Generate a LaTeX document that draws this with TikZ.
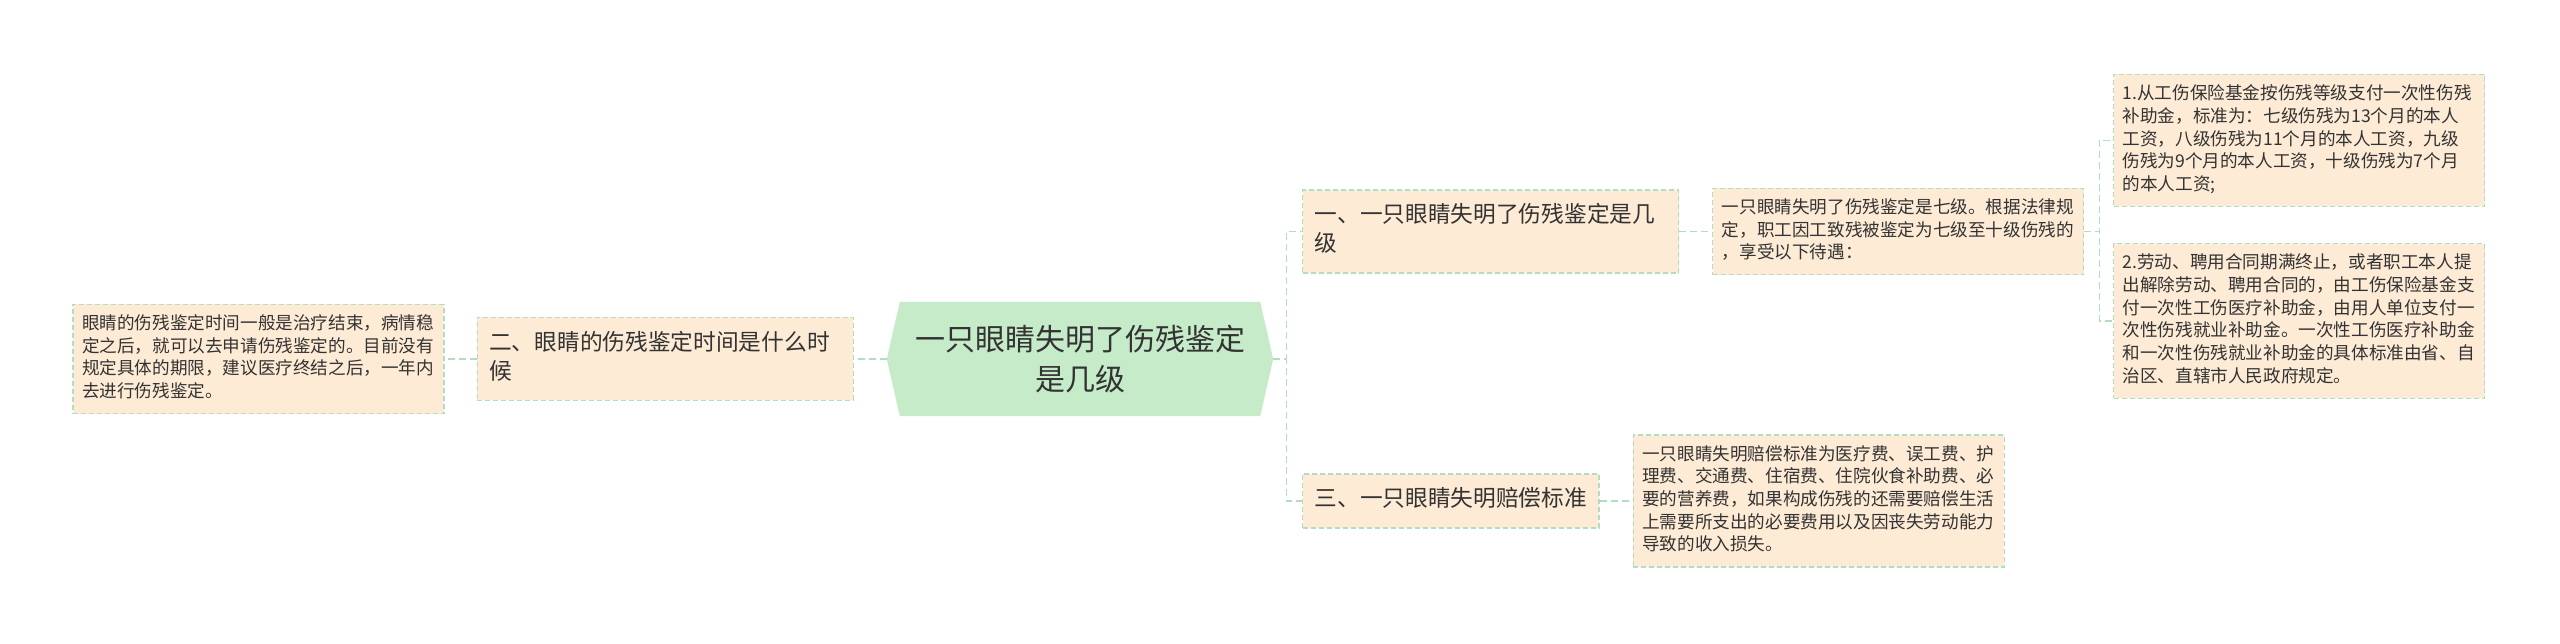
\documentclass[tikz,border=0pt]{standalone}
\usepackage{fontspec}
\newfontfamily\cjk{Noto Sans CJK SC}
\usepackage{xcolor}
\usepackage{tikz}
\usetikzlibrary{positioning,backgrounds}

\definecolor{peach}{RGB}{253,235,213}
\definecolor{edgegreen}{RGB}{176,222,190}
\definecolor{rootgreen}{RGB}{197,235,201}
\definecolor{inkgray}{RGB}{51,51,51}
\newcommand{\leaffont}{\cjk\fontsize{17.6pt}{22.7pt}\selectfont}
\newcommand{\topicfont}{\cjk\fontsize{22.7pt}{29pt}\selectfont}
\newcommand{\rootfont}{\cjk\fontsize{30pt}{40pt}\selectfont}

\begin{document}
\begin{tikzpicture}[
  x=1pt, y=1pt,
  node distance=33pt,
  text=inkgray,
  box/.style={fill=peach, draw=edgegreen, line width=1.2pt, dash pattern=on 5pt off 3pt, align=left,
    execute at begin node=\strut, execute at end node=\strut},
  topic/.style={box, font=\topicfont, inner xsep=12pt, inner ysep=12.5pt},
  leaf/.style={box, font=\leaffont, text width=353pt, inner xsep=9pt, inner ysep=9.25pt},
  root/.style={font=\rootfont, align=center, minimum width=386pt, minimum height=114pt},
  link/.style={draw=edgegreen, line width=1.3pt, dash pattern=on 7pt off 4pt}
]
\useasboundingbox (0,0) rectangle (2560,643);

\node[root] (root) at (1080,284) {一只眼睛失明了伤残鉴定\\是几级};
\begin{scope}[on background layer]
\fill[rootgreen] ([xshift=13pt]root.north west) -- ([xshift=-13pt]root.north east) -- (root.east)
  -- ([xshift=-13pt]root.south east) -- ([xshift=13pt]root.south west) -- (root.west) -- cycle;
\end{scope}

\node[topic, text width=352pt, left=of root] (when) {二、眼睛的伤残鉴定时间是什么时\\候};
\node[leaf, left=32pt of when] (whenleaf) {眼睛的伤残鉴定时间一般是治疗结束，病情稳\\
定之后，就可以去申请伤残鉴定的。目前没有\\
规定具体的期限，建议医疗终结之后，一年内\\
去进行伤残鉴定。};

\node[topic, text width=352pt, anchor=west] (grade) at (1302,411.5) {一、一只眼睛失明了伤残鉴定是几\\级};
\node[leaf, right=of grade] (gradeleaf) {一只眼睛失明了伤残鉴定是七级。根据法律规\\
定，职工因工致残被鉴定为七级至十级伤残的\\
，享受以下待遇：};
\node[leaf, anchor=west] (pay) at (2113,502.5) {1.从工伤保险基金按伤残等级支付一次性伤残\\
补助金，标准为：七级伤残为13个月的本人\\
工资，八级伤残为11个月的本人工资，九级\\
伤残为9个月的本人工资，十级伤残为7个月\\
的本人工资;};
\node[leaf, anchor=west] (contract) at (2113,322) {2.劳动、聘用合同期满终止，或者职工本人提\\
出解除劳动、聘用合同的，由工伤保险基金支\\
付一次性工伤医疗补助金，由用人单位支付一\\
次性伤残就业补助金。一次性工伤医疗补助金\\
和一次性伤残就业补助金的具体标准由省、自\\
治区、直辖市人民政府规定。};

\node[topic, anchor=west] (comp) at (1302,142) {三、一只眼睛失明赔偿标准};
\node[leaf, right=of comp] (compleaf) {一只眼睛失明赔偿标准为医疗费、误工费、护\\
理费、交通费、住宿费、住院伙食补助费、必\\
要的营养费，如果构成伤残的还需要赔偿生活\\
上需要所支出的必要费用以及因丧失劳动能力\\
导致的收入损失。};

\draw[link] (root.west) -- (when.east);
\draw[link] (when.west) -- (whenleaf.east);
\draw[link] (root.east) -- ++(13,0) |- (grade.west);
\draw[link] (root.east) -- ++(13,0) |- (comp.west);
\draw[link] (grade.east) -- (gradeleaf.west);
\draw[link] (gradeleaf.east) -- ++(15,0) |- (pay.west);
\draw[link] (gradeleaf.east) -- ++(15,0) |- (contract.west);
\draw[link] (comp.east) -- (compleaf.west);
\end{tikzpicture}
\end{document}
